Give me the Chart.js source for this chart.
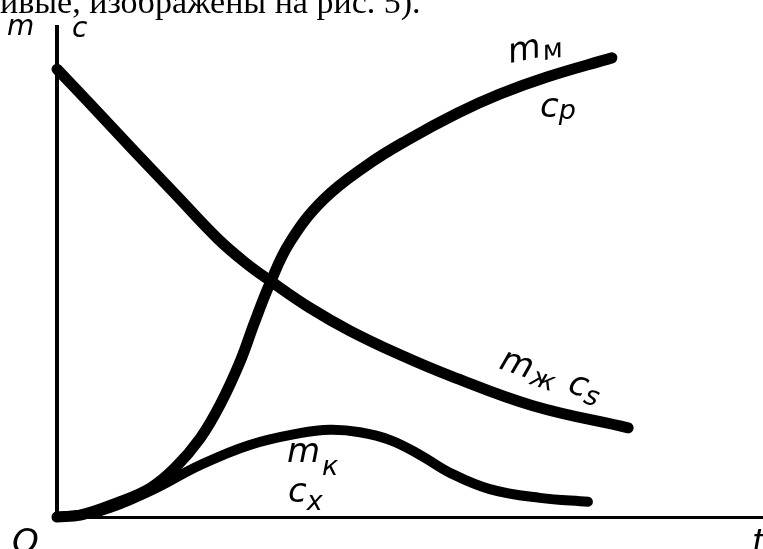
<!DOCTYPE html>
<html>
<head>
<meta charset="utf-8">
<script src="https://cdn.jsdelivr.net/npm/chart.js@4.4.1/dist/chart.umd.min.js"></script>
<style>
  html, body { margin: 0; padding: 0; background: #fff; overflow: hidden; }
  #wrap { width: 763px; height: 549px; }
</style>
</head>
<body>
<div id="wrap"><canvas id="chart" width="763" height="549"></canvas></div>
<script>
// time axis (arbitrary units) and the three curves
var tLiquid = [0, 4.7, 10.8, 17.0, 22.7, 26.6, 30.2, 35.8, 41.5, 48.6, 55.7, 67.4, 80.9];
var mLiquid = [91.4, 84.3, 74.9, 65.5, 56.9, 52.0, 48.2, 42.7, 38.0, 33.1, 28.8, 22.7, 18.2];

var tBiomass = [0, 3.3, 8.5, 13.2, 16.7, 20.3, 23.1, 25.9, 28.0, 30.2, 33.0, 37.7, 43.9, 49.6, 56.7, 62.7, 69.4, 78.6];
var mBiomass = [0, 0.4, 2.9, 5.9, 10.0, 16.1, 22.9, 31.6, 39.8, 47.8, 56.1, 64.7, 71.8, 76.9, 82.4, 86.3, 89.8, 93.7];

var tHump = [0, 6.1, 13.2, 20.3, 27.3, 34.4, 38.7, 42.9, 47.2, 51.4, 55.7, 61.3, 68.4, 75.2];
var mHump = [0, 1.2, 5.3, 10.6, 14.7, 17.1, 17.8, 17.3, 15.7, 12.7, 9.0, 5.7, 3.9, 3.1];

var headerText = 'ивые, изображены на рис. 5).';

function pts(xs, ys) {
  return xs.map(function(x, i) { return { x: x, y: ys[i] }; });
}

function curve(data, width) {
  return {
    data: data,
    borderColor: '#000',
    borderWidth: width,
    borderCapStyle: 'round',
    borderJoinStyle: 'round',
    pointRadius: 0,
    tension: 0.4,
    fill: false,
    clip: false
  };
}

// write a label made of pieces (main letter + subscript), optionally tilted
function label(ctx, x, y, angle, parts) {
  ctx.save();
  ctx.translate(x, y);
  ctx.rotate(angle);
  var dx = 0;
  parts.forEach(function(p) {
    ctx.font = p.font;
    ctx.fillText(p.text, dx, p.dy || 0);
    dx += ctx.measureText(p.text).width + (p.gap || 0);
  });
  ctx.restore();
}

var MAIN = 'italic 34px "DejaVu Sans"';
var SUB = 'italic 27px "DejaVu Sans"';

var textPlugin = {
  id: 'texts',
  afterDraw: function(chart) {
    var ctx = chart.ctx;
    ctx.save();
    ctx.fillStyle = '#000';
    ctx.textBaseline = 'alphabetic';

    ctx.font = '34px "Liberation Serif"';
    ctx.fillText(headerText, 0, 13);

    label(ctx, 7, 35, 0, [{ text: 'm', font: 'italic 28px "DejaVu Sans"' }]);
    label(ctx, 72, 37, 0, [{ text: 'c', font: 'italic 28px "DejaVu Sans"' }]);

    label(ctx, 510, 63, -0.2, [
      { text: 'm', font: MAIN, gap: 1 },
      { text: 'м', font: SUB, dy: 4 }
    ]);
    label(ctx, 540, 117, 0, [
      { text: 'c', font: MAIN },
      { text: 'p', font: SUB, dy: 2 }
    ]);

    label(ctx, 498, 368, 0.33, [
      { text: 'm', font: MAIN, gap: 1 },
      { text: 'ж', font: SUB, dy: 5, gap: 14 },
      { text: 'c', font: MAIN },
      { text: 's', font: SUB, dy: 5 }
    ]);

    label(ctx, 287, 462, 0, [
      { text: 'm', font: MAIN, gap: 2 },
      { text: 'к', font: SUB, dy: 13 }
    ]);
    label(ctx, 288, 502, 0, [
      { text: 'c', font: MAIN },
      { text: 'x', font: SUB, dy: 8 }
    ]);

    label(ctx, 12, 553, 0, [{ text: 'O', font: MAIN }]);
    label(ctx, 752, 553, 0, [{ text: 't', font: MAIN }]);
    ctx.restore();
  }
};

new Chart(document.getElementById('chart'), {
  type: 'line',
  data: {
    datasets: [
      curve(pts(tLiquid, mLiquid), 11),
      curve(pts(tBiomass, mBiomass), 11),
      curve(pts(tHump, mHump), 10)
    ]
  },
  options: {
    responsive: false,
    animation: false,
    layout: { padding: { left: 57, top: 27, right: 0, bottom: 32 } },
    plugins: { legend: { display: false }, tooltip: { enabled: false } },
    scales: {
      x: {
        type: 'linear', min: 0, max: 100,
        ticks: { display: false },
        grid: { display: false, drawTicks: false },
        border: { display: true, color: '#000', width: 3 }
      },
      y: {
        type: 'linear', min: 0, max: 100,
        ticks: { display: false },
        grid: { display: false, drawTicks: false },
        border: { display: true, color: '#000', width: 4 }
      }
    }
  },
  plugins: [textPlugin]
});
</script>
</body>
</html>
